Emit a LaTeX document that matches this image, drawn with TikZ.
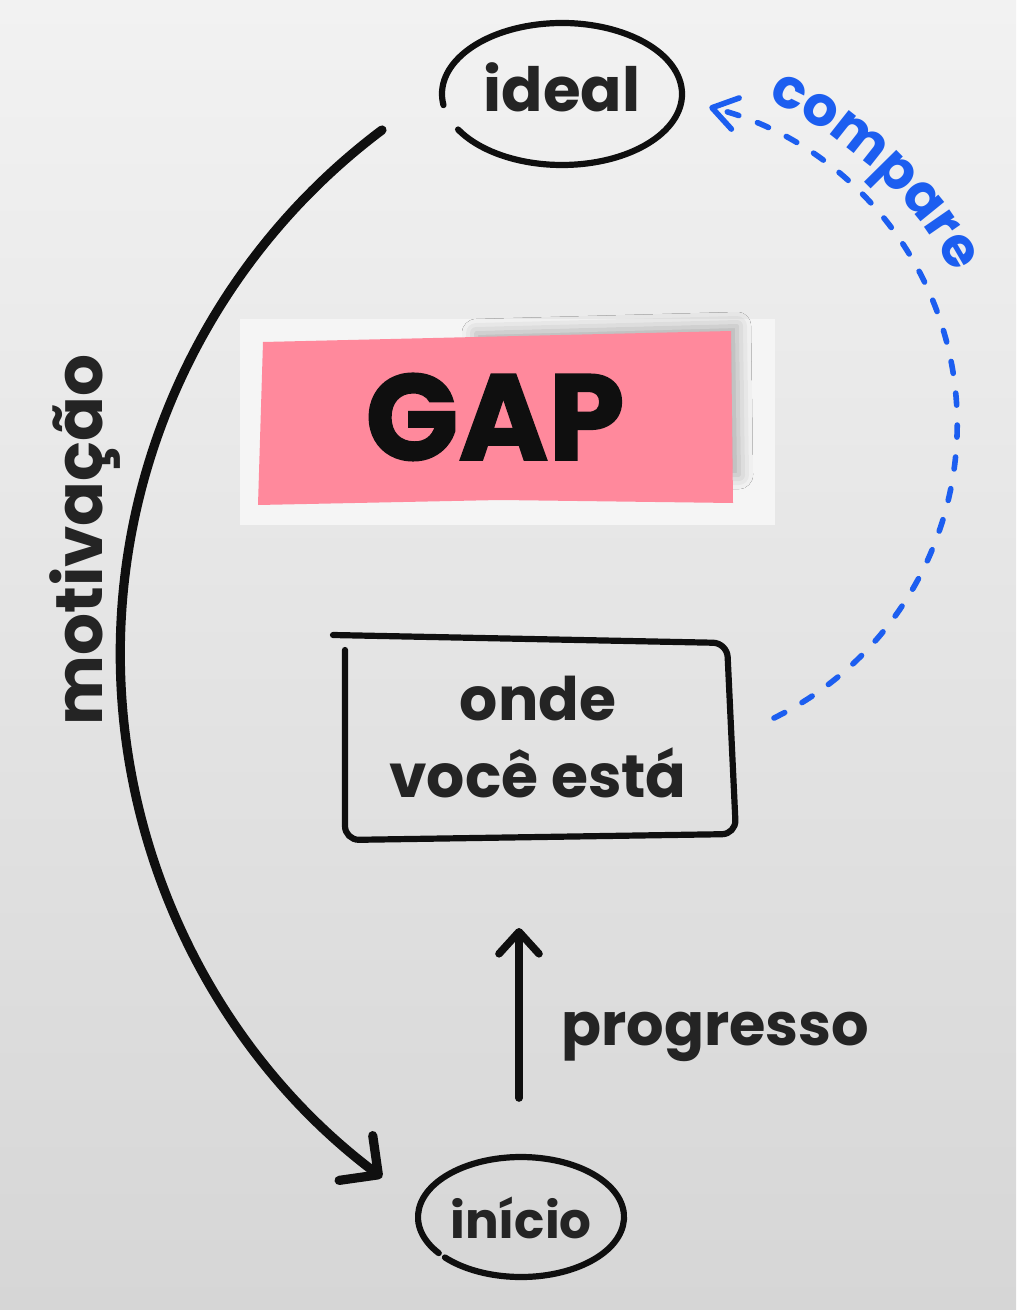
\documentclass[tikz,border=0pt]{standalone}
\usepackage{fontspec}
\setmainfont{Poppins}
\newfontfamily\gapfamily{Poppins}[BoldFeatures={FakeBold=1.5}]
\usetikzlibrary{arrows.meta,decorations.text,shadows.blur,calc}
\definecolor{ink}{RGB}{15,15,15}
\definecolor{txt}{RGB}{36,36,36}
\definecolor{cblue}{RGB}{28,94,240}
\definecolor{gappink}{RGB}{255,137,156}
\definecolor{bgtop}{RGB}{242,242,242}
\definecolor{bgbot}{RGB}{214,214,214}
\definecolor{paperwhite}{RGB}{245,245,245}
\newcommand\cmpfont{\color{cblue}\bfseries\fontsize{27.5pt}{33pt}\selectfont}
\tikzset{
  lbl/.style={text=txt, inner sep=0pt, font=\bfseries\fontsize{#1}{#1}\selectfont},
  hand/.style={draw=ink, line width=3.1pt, line cap=round, line join=round},
  bigline/.style={draw=ink, line width=4.6pt, line cap=round, line join=round},
  upline/.style={draw=ink, line width=3.8pt, line cap=round, line join=round},
  cmpline/.style={draw=cblue, line width=2.8pt, line cap=round, dash pattern=on 6pt off 10pt},
}
\begin{document}
\begin{tikzpicture}[x=0.5pt,y=-0.5pt]
% background
\fill[top color=bgtop, bottom color=bgbot] (0,0) rectangle (1016,1310);
\useasboundingbox (0,0) rectangle (1016,1310);

% ideal
\node[lbl=30.5pt, anchor=base] (ideal) at (562,112) {ideal};
\coordinate (idealC) at (562,94);
\draw[hand] ($(idealC)+(171:120 and 71)$) arc[start angle=171, end angle=510, x radius=120, y radius=71];

% motivacao connector
\coordinate (mstart) at (382,130);
\draw[bigline, -{Straight Barb[round, length=14pt, width=28pt]}] (mstart) arc[start angle=233.1, end angle=126.9, radius=655];
\node[lbl=33pt, rotate=90, anchor=base] (mot) at (102,540) {motivação};

% GAP
\fill[paperwhite] (240,319) rectangle (775,525);
\path[blur shadow={shadow xshift=3pt, shadow yshift=2.5pt, shadow blur radius=7pt, shadow opacity=30}]
  (470,338) -- (731,331) -- (733,480) -- (470,485) -- cycle;
\fill[gappink] (263,342) -- (731,331) -- (733,503) -- (500,500) -- (258,505) -- cycle;
\node[text=ink, inner sep=0pt, anchor=base, font=\gapfamily\bfseries\fontsize{61pt}{61pt}\selectfont] (gap) at (495,460) {GAP};

% onde voce esta
\node[lbl=30pt, align=center, anchor=center, font=\bfseries\fontsize{30pt}{38.5pt}\selectfont] (here) at (538,737) {onde\\você está};
\draw[hand, rounded corners=7pt] (333,635) -- (727,643) -- (736,834) -- (345,840) -- (345,650);

% compare
\coordinate (cstart) at (774,718);
\draw[cmpline, -{Straight Barb[round, length=12pt, width=16pt]}] (cstart) arc[start angle=63.9, end angle=-76, radius=327];
\coordinate (cc) at (610,455);
\path[decorate, decoration={text along path, text align=center, text={|\cmpfont|compare}}]
  ($(cc)+(-80:388)$) arc[start angle=-80, end angle=-14, radius=388];

% progresso
\coordinate (pbot) at (519,1098);
\coordinate (ptop) at (519,928);
\draw[upline, -{Straight Barb[round, length=11pt, width=20pt]}] (pbot) -- (ptop);
\node[lbl=29.5pt, anchor=base west] (prog) at (561,1045) {progresso};

% inicio
\node[lbl=25pt, anchor=base] (inicio) at (521,1238) {início};
\coordinate (iniC) at (521,1217);
\draw[hand] ($(iniC)+(143:103 and 60)$) arc[start angle=143, end angle=497.6, x radius=103, y radius=60];
\end{tikzpicture}
\end{document}
